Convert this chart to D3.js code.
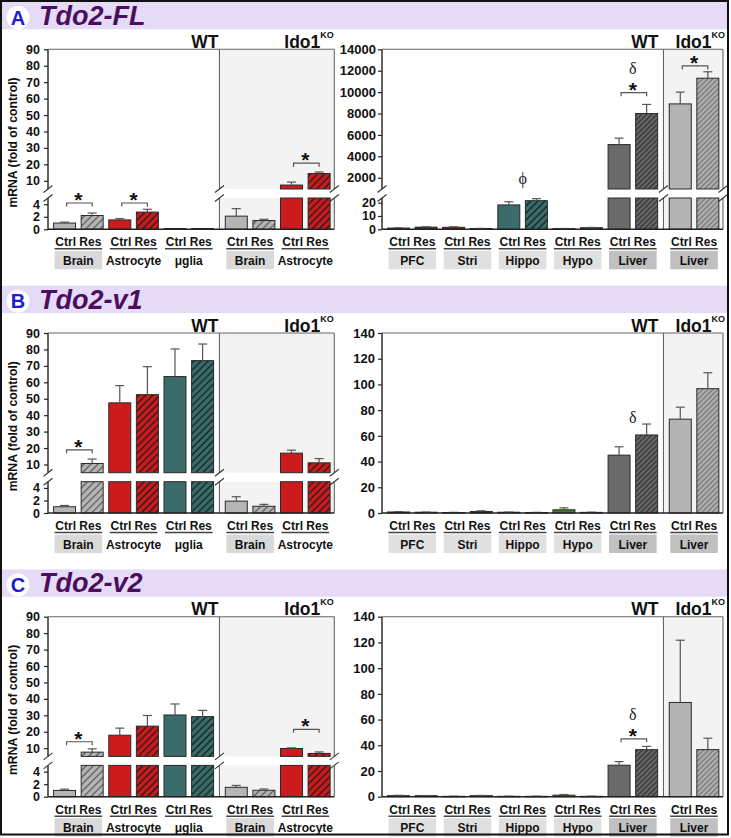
<!DOCTYPE html>
<html><head><meta charset="utf-8">
<script src="https://cdn.jsdelivr.net/npm/d3@7"></script>
<style>body{margin:0;background:#fff}svg{display:block}</style>
</head><body>
<svg id="c" width="731" height="838"></svg>
<script>
// ---------------- DATA ----------------
const panelLetters = ["A", "B", "C"];
const panelTitles = ["Tdo2-FL", "Tdo2-v1", "Tdo2-v2"];
const leftCategories = ["Brain", "Astrocyte", "μglia", "Brain", "Astrocyte"];
const leftGenotypes = ["WT", "WT", "WT", "Ido1", "Ido1"];
const rightCategories = ["PFC", "Stri", "Hippo", "Hypo", "Liver", "Liver"];
const rightGenotypes = ["WT", "WT", "WT", "WT", "WT", "Ido1"];
const barLabel = "Ctrl Res";
const yAxisTitle = "mRNA (fold of control)";

// broken axis domains + ticks
const leftUpperDomain = [5, 90];
const leftLowerDomain = [0, 5];
const leftUpperTicks = [10, 20, 30, 40, 50, 60, 70, 80, 90];
const leftLowerTicks = [0, 2, 4];
const flRightUpperDomain = [950, 14000];
const flRightLowerDomain = [0, 23.5];
const flRightUpperTicks = [2000, 4000, 6000, 8000, 10000, 12000, 14000];
const flRightLowerTicks = [0, 10, 20];
const rightDomain = [0, 140];
const rightTicks = [0, 20, 40, 60, 80, 100, 120, 140];

// Panel A – Tdo2-FL
const flLeftCtrl = [1.0, 1.5, 0.12, 2.1, 7.4];
const flLeftCtrlErr = [0.15, 0.2, 0, 1.2, 1.8];
const flLeftRes = [2.2, 2.75, 0.12, 1.4, 14.4];
const flLeftResErr = [0.4, 0.45, 0, 0.2, 0.9];
const flRightCtrl = [0.9, 1.5, 18.3, 0.5, 5100, 8900];
const flRightCtrlErr = [0.2, 0.4, 2.4, 0.1, 600, 1100];
const flRightRes = [1.6, 0.6, 21.5, 1.2, 8000, 11300];
const flRightResErr = [0.3, 0.1, 1.5, 0.2, 850, 600];
const flLeftMarks = [{group: 0, sym: "*", value: 4.2}, {group: 1, sym: "*", value: 4.2}, {group: 4, sym: "*", value: 20.7}];
const flRightMarks = [{group: 2, sym: "ϕ", value: 1785}, {group: 4, sym: "*", value: 9950}, {group: 4, sym: "δ", value: 12250}, {group: 5, sym: "*", value: 12450}];

// Panel B – Tdo2-v1
const v1LeftCtrl = [1.0, 47.5, 63.5, 1.9, 16.9];
const v1LeftCtrlErr = [0.2, 10.5, 16.8, 0.7, 1.8];
const v1LeftRes = [10.6, 52.5, 73.2, 1.08, 11];
const v1LeftResErr = [2.7, 17, 10.1, 0.3, 2.6];
const v1RightCtrl = [0.8, 0.4, 0.6, 2.5, 45, 73];
const v1RightCtrlErr = [0.3, 0.1, 0.1, 1.5, 6.5, 9.3];
const v1RightRes = [0.6, 1.2, 0.4, 0.5, 60.7, 96.7];
const v1RightResErr = [0.1, 0.5, 0.1, 0.1, 8.5, 12.4];
const v1LeftMarks = [{group: 0, sym: "*", value: 18.9}];
const v1RightMarks = [{group: 4, sym: "δ", value: 74.4}];

// Panel C – Tdo2-v2
const v2LeftCtrl = [1.0, 17.9, 30.2, 1.5, 9.8];
const v2LeftCtrlErr = [0.2, 4.3, 6.7, 0.3, 0.4];
const v2LeftRes = [7.6, 23.4, 29.2, 1.03, 6.8];
const v2LeftResErr = [2.0, 6.5, 3.8, 0.2, 0.9];
const v2RightCtrl = [0.8, 0.3, 0.3, 1.2, 24.5, 73.3];
const v2RightCtrlErr = [0.3, 0.1, 0.1, 0.5, 2.8, 48.4];
const v2RightRes = [0.8, 0.8, 0.3, 0.3, 36.6, 36.6];
const v2RightResErr = [0.1, 0.2, 0.1, 0.1, 2.5, 8.9];
const v2LeftMarks = [{group: 0, sym: "*", value: 13.9}, {group: 4, sym: "*", value: 21.5}];
const v2RightMarks = [{group: 4, sym: "*", value: 45}, {group: 4, sym: "δ", value: 64.5}];

// ---------------- STYLE ----------------
const FONT = "'Liberation Sans', Arial, Helvetica, sans-serif";
const SERIF = "'Liberation Serif', 'Times New Roman', serif";
const PANEL_DY = 283.7;
const styles = {
  brain:   {fill: "#b5b5b5", stripe: "#555", sp: 5, sw: 1.2},
  astro:   {fill: "#cc1b1d", stripe: "#1a1a1a", sp: 5, sw: 1.3},
  teal:    {fill: "#3b6c6a", stripe: "#0f1f1f", sp: 5, sw: 1.3},
  pfc:     {fill: "#3a3a3a", stripe: "#111", sp: 4, sw: 1},
  stri:    {fill: "#8a1a1a", stripe: "#111", sp: 4, sw: 1},
  hypo:    {fill: "#3f7d20", stripe: "#111", sp: 4, sw: 1},
  liverWT: {fill: "#6a6a6a", stripe: "#1e1e1e", sp: 3.6, sw: 1},
  liverKO: {fill: "#b3b3b3", stripe: "#555", sp: 3.6, sw: 0.9}
};
function styleKey(cat, geno) {
  if (cat === "Brain") return "brain";
  if (cat === "Astrocyte") return "astro";
  if (cat === "μglia" || cat === "Hippo") return "teal";
  if (cat === "PFC") return "pfc";
  if (cat === "Stri") return "stri";
  if (cat === "Hypo") return "hypo";
  return geno === "WT" ? "liverWT" : "liverKO";
}
function boxFill(cat, side) {
  if (side === "left") return cat === "Brain" ? "#d9d9d9" : null;
  return cat === "Liver" ? "#c0c0c0" : "#e0e0e0";
}

const svg = d3.select("#c");
const defs = svg.append("defs");
Object.entries(styles).forEach(([k, s]) => {
  const p = defs.append("pattern").attr("id", "h-" + k)
    .attr("patternUnits", "userSpaceOnUse").attr("width", s.sp).attr("height", s.sp)
    .attr("patternTransform", "rotate(45)");
  p.append("rect").attr("width", s.sp).attr("height", s.sp).attr("fill", s.fill);
  p.append("line").attr("x1", s.sp / 2).attr("x2", s.sp / 2).attr("y1", 0).attr("y2", s.sp)
    .attr("stroke", s.stripe).attr("stroke-width", s.sw);
});

function drawChart(c) {
  const g = svg.append("g");
  const GAP = 0.22;
  const n = c.categories.length * 2;
  const nWT = c.genotypes.filter(d => d === "WT").length * 2;
  const x = d3.scaleLinear().domain([-0.6, n - 1 + GAP + 0.55]).range([c.x0, c.x1]);
  const unitOf = (gi, j) => 2 * gi + j + (c.genotypes[gi] === "WT" ? 0 : GAP);
  const divX = x(nWT - 0.5 + GAP / 2);
  const BW = 22;

  let yU = null, yL, yv;
  if (c.broken) {
    yU = d3.scaleLinear().domain(c.upperDomain).range([c.ub, c.top]);
    yL = d3.scaleLinear().domain(c.lowerDomain).range([c.bottom, c.lt]);
    yv = v => v <= c.lowerDomain[1] ? yL(v) : yU(v);
  } else {
    yL = d3.scaleLinear().domain(c.domain).range([c.bottom, c.top]);
    yv = yL;
  }
  const segs = c.broken ? [[c.top, c.ub], [c.lt, c.bottom]] : [[c.top, c.bottom]];

  // Ido1 shading
  segs.forEach(([a, b]) => g.append("rect").attr("x", divX).attr("y", a)
    .attr("width", c.x1 - divX).attr("height", b - a).attr("fill", "#f3f3f3"));

  // bars
  const bars = [];
  c.categories.forEach((cat, gi) => {
    [[c.ctrl, c.ctrlErr], [c.res, c.resErr]].forEach(([vals, errs], j) => {
      bars.push({gi, j, cat, v: vals[gi], e: errs[gi], cx: x(unitOf(gi, j)), key: styleKey(cat, c.genotypes[gi])});
    });
  });
  bars.forEach(b => {
    const fill = b.j === 0 ? styles[b.key].fill : `url(#h-${b.key})`;
    let rects;
    if (c.broken && b.v > c.lowerDomain[1]) {
      rects = [[yL(c.lowerDomain[1]), yL(0)], [yU(b.v), yU(c.upperDomain[0])]];
    } else {
      rects = [[yv(b.v), yv(0)]];
    }
    rects.forEach(([a, bt]) => g.append("rect").attr("x", b.cx - BW / 2).attr("y", a)
      .attr("width", BW).attr("height", Math.max(0.6, bt - a)).attr("fill", fill)
      .attr("stroke", "#2a2a2a").attr("stroke-width", 1));
  });
  // error bars
  bars.filter(b => b.e > 0).forEach(b => {
    const y0 = yv(b.v), y1 = yv(b.v + b.e);
    g.append("line").attr("x1", b.cx).attr("x2", b.cx).attr("y1", y0).attr("y2", y1)
      .attr("stroke", "#555").attr("stroke-width", 1.2);
    g.append("line").attr("x1", b.cx - 4.5).attr("x2", b.cx + 4.5).attr("y1", y1).attr("y2", y1)
      .attr("stroke", "#555").attr("stroke-width", 1.2);
  });

  // frame
  segs.forEach(([a, b]) => {
    [divX, c.x1].forEach(xx => g.append("line").attr("x1", xx).attr("x2", xx).attr("y1", a).attr("y2", b)
      .attr("stroke", "#666").attr("stroke-width", 1.1));
    g.append("line").attr("x1", c.x0).attr("x2", c.x0).attr("y1", a).attr("y2", b)
      .attr("stroke", "#222").attr("stroke-width", 1.4);
  });
  g.append("line").attr("x1", c.x0).attr("x2", c.x1).attr("y1", c.top).attr("y2", c.top)
    .attr("stroke", "#666").attr("stroke-width", 1.1);
  g.append("line").attr("x1", c.x0).attr("x2", c.x1).attr("y1", c.bottom).attr("y2", c.bottom)
    .attr("stroke", "#222").attr("stroke-width", 1.6);
  if (c.broken) {
    [c.x0, divX, c.x1].forEach(xx => [c.ub, c.lt].forEach(yy =>
      g.append("line").attr("x1", xx - 4.5).attr("x2", xx + 4.5).attr("y1", yy + 3.5).attr("y2", yy - 3.5)
        .attr("stroke", "#333").attr("stroke-width", 1.1)));
  }

  // axes
  const axes = c.broken ? [[yU, c.upperTicks, c.tickFont], [yL, c.lowerTicks, Math.min(c.tickFont, 12.5)]]
                        : [[yL, c.ticks, c.tickFont]];
  axes.forEach(([sc, tv, fs]) => {
    const ga = g.append("g").attr("transform", `translate(${c.x0},0)`)
      .call(d3.axisLeft(sc).tickValues(tv).tickSize(4).tickPadding(c.tickPad).tickFormat(d3.format("d")));
    ga.select(".domain").remove();
    ga.selectAll("line").attr("stroke", "#222").attr("stroke-width", 1.2);
    ga.selectAll("text").attr("font-family", FONT).attr("font-weight", "bold")
      .attr("font-size", fs).attr("fill", "#111");
  });

  // x labels
  c.categories.forEach((cat, gi) => {
    const xl = x(unitOf(gi, 0)) - BW / 2, xr = x(unitOf(gi, 1)) + BW / 2, xc = (xl + xr) / 2;
    g.append("text").attr("x", xc).attr("y", c.bottom + 17).attr("text-anchor", "middle")
      .attr("font-family", FONT).attr("font-weight", "bold").attr("font-size", 12).attr("fill", "#111").text(barLabel);
    g.append("line").attr("x1", xl + 1).attr("x2", xr - 1).attr("y1", c.bottom + 19.5).attr("y2", c.bottom + 19.5)
      .attr("stroke", "#444").attr("stroke-width", 1.5);
    const bf = boxFill(cat, c.side);
    if (bf) g.append("rect").attr("x", xl + 1).attr("y", c.bottom + 21.5).attr("width", xr - xl - 2)
      .attr("height", 18.5).attr("fill", bf);
    g.append("text").attr("x", xc).attr("y", c.bottom + 35.5).attr("text-anchor", "middle")
      .attr("font-family", FONT).attr("font-weight", "bold").attr("font-size", 12).attr("fill", "#111").text(cat);
  });

  // genotype header labels
  g.append("text").attr("x", divX - c.wtInset).attr("y", c.top - 1.5).attr("text-anchor", "end")
    .attr("font-family", FONT).attr("font-weight", "bold").attr("font-size", 17.5).attr("fill", "#111").text("WT");
  const t = g.append("text").attr("x", c.x1 + c.koInset).attr("y", c.top - 1.5).attr("text-anchor", "end")
    .attr("font-family", FONT).attr("font-weight", "bold").attr("font-size", 17.5).attr("fill", "#111");
  t.append("tspan").text("Ido1");
  t.append("tspan").attr("font-size", 9).attr("dy", -10).text("KO");

  // significance marks
  c.marks.forEach(m => {
    const xc0 = x(unitOf(m.group, 0)), xc1 = x(unitOf(m.group, 1));
    const xm = (xc0 + xc1) / 2;
    const yy = yv(m.value);
    if (m.sym === "*") {
      g.append("path").attr("d", `M${xc0 + 2},${yy + 3.5}V${yy}H${xc1}V${yy + 3.5}`)
        .attr("fill", "none").attr("stroke", "#555").attr("stroke-width", 1.2);
      g.append("text").attr("x", xm).attr("y", yy + 4).attr("text-anchor", "middle")
        .attr("font-family", FONT).attr("font-weight", "bold").attr("font-size", 21).attr("fill", "#111").text("*");
    } else {
      g.append("text").attr("x", xm).attr("y", yy + (m.sym === "δ" ? 6 : 4)).attr("text-anchor", "middle")
        .attr("font-family", SERIF).attr("font-size", 16).attr("fill", "#222").text(m.sym);
    }
  });
}

const panelData = [
  {L: [flLeftCtrl, flLeftCtrlErr, flLeftRes, flLeftResErr, flLeftMarks],
   R: [flRightCtrl, flRightCtrlErr, flRightRes, flRightResErr, flRightMarks], rightBroken: true},
  {L: [v1LeftCtrl, v1LeftCtrlErr, v1LeftRes, v1LeftResErr, v1LeftMarks],
   R: [v1RightCtrl, v1RightCtrlErr, v1RightRes, v1RightResErr, v1RightMarks], rightBroken: false},
  {L: [v2LeftCtrl, v2LeftCtrlErr, v2LeftRes, v2LeftResErr, v2LeftMarks],
   R: [v2RightCtrl, v2RightCtrlErr, v2RightRes, v2RightResErr, v2RightMarks], rightBroken: false}
];

panelData.forEach((pd, k) => {
  const oy = k * PANEL_DY;
  // header band
  svg.append("rect").attr("x", 2).attr("y", 2 + oy).attr("width", 726).attr("height", 27.3).attr("fill", "#e5dbf7");
  svg.append("circle").attr("cx", 18).attr("cy", 17.5 + oy).attr("r", 11.5).attr("fill", "#fff");
  svg.append("text").attr("x", 18).attr("y", 24.7 + oy).attr("text-anchor", "middle")
    .attr("font-family", FONT).attr("font-weight", "bold").attr("font-size", 20).attr("fill", "#1c1cd2").text(panelLetters[k]);
  svg.append("text").attr("x", 39).attr("y", 25 + oy)
    .attr("font-family", FONT).attr("font-weight", "bold").attr("font-style", "italic")
    .attr("font-size", 27).attr("fill", "#4b0d5e").text(panelTitles[k]);
  // y title
  svg.append("text").attr("transform", `translate(17,${142.5 + oy}) rotate(-90)`).attr("text-anchor", "middle")
    .attr("font-family", FONT).attr("font-weight", "bold").attr("font-size", 12.2).attr("fill", "#111").text(yAxisTitle);

  const geomY = {top: 49.3 + oy, bottom: 229.3 + oy, ub: 189 + oy, lt: 198 + oy};
  drawChart(Object.assign({}, geomY, {
    side: "left", x0: 48, x1: 334.3, broken: true,
    upperDomain: leftUpperDomain, lowerDomain: leftLowerDomain,
    upperTicks: leftUpperTicks, lowerTicks: leftLowerTicks,
    categories: leftCategories, genotypes: leftGenotypes,
    ctrl: pd.L[0], ctrlErr: pd.L[1], res: pd.L[2], resErr: pd.L[3], marks: pd.L[4],
    tickFont: 12.5, tickPad: 4, wtInset: 1, koInset: -0.5
  }));
  const rc = Object.assign({}, geomY, {
    side: "right", x0: 382, x1: 723, broken: pd.rightBroken,
    categories: rightCategories, genotypes: rightGenotypes,
    ctrl: pd.R[0], ctrlErr: pd.R[1], res: pd.R[2], resErr: pd.R[3], marks: pd.R[4],
    tickFont: 13, tickPad: 2, wtInset: 5, koInset: 2
  });
  if (pd.rightBroken) {
    Object.assign(rc, {upperDomain: flRightUpperDomain, lowerDomain: flRightLowerDomain,
      upperTicks: flRightUpperTicks, lowerTicks: flRightLowerTicks});
  } else {
    Object.assign(rc, {domain: rightDomain, ticks: rightTicks, tickPad: 3});
  }
  drawChart(rc);
});

// outer border
svg.append("rect").attr("x", 1).attr("y", 1).attr("width", 727).attr("height", 833.5)
  .attr("fill", "none").attr("stroke", "#111").attr("stroke-width", 2);
</script>
</body></html>
